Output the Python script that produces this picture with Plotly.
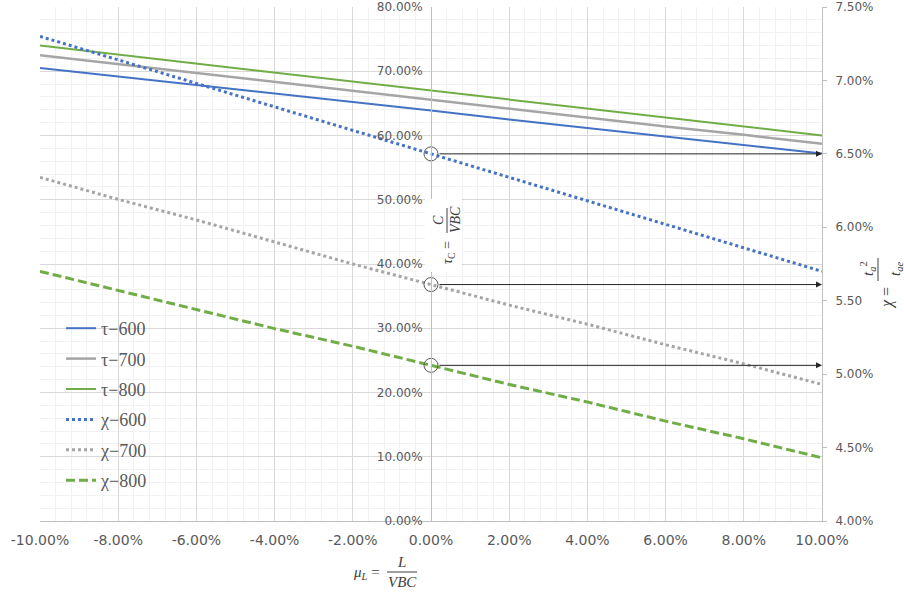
import plotly.graph_objects as go

# ---- data (percent units) ----
x_pct = [-10, -8, -6, -4, -2, 0, 2, 4, 6, 8, 10]
tau600 = [70.5, 69.2, 67.8, 66.5, 65.2, 63.9, 62.5, 61.2, 59.8, 58.5, 57.2]
tau700 = [72.5, 71.1, 69.8, 68.4, 67.0, 65.6, 64.2, 62.8, 61.4, 60.1, 58.7]
tau800 = [74.0, 72.6, 71.2, 69.8, 68.4, 67.0, 65.6, 64.2, 62.8, 61.4, 60.0]
chi600 = [7.30, 7.14, 6.98, 6.82, 6.66, 6.50, 6.34, 6.18, 6.02, 5.86, 5.70]
chi700 = [6.34, 6.19, 6.05, 5.90, 5.75, 5.61, 5.47, 5.34, 5.20, 5.07, 4.93]
chi800 = [5.70, 5.57, 5.44, 5.31, 5.19, 5.06, 4.93, 4.81, 4.68, 4.56, 4.43]
names = ["τ−600", "τ−700", "τ−800", "χ−600", "χ−700", "χ−800"]

left_ticks = [0, 10, 20, 30, 40, 50, 60, 70, 80]
left_text = ["0.00%", "10.00%", "20.00%", "30.00%", "40.00%", "50.00%", "60.00%", "70.00%", "80.00%"]
right_ticks = [4.0, 4.5, 5.0, 5.5, 6.0, 6.5, 7.0, 7.5]
right_text = ["4.00%", "4.50%", "5.00%", "5.50", "6.00%", "6.50%", "7.00%", "7.50%"]
x_ticks = [-10, -8, -6, -4, -2, 0, 2, 4, 6, 8, 10]
x_text = ["-10.00%", "-8.00%", "-6.00%", "-4.00%", "-2.00%", "0.00%", "2.00%", "4.00%", "6.00%", "8.00%", "10.00%"]

BLUE, GRAY, GREEN = "#4472C4", "#A5A5A5", "#70AD47"
TXT = "#595959"
W, H = 904, 592
L, R, T, B = 40, 82, 7, 71


def px(x):
    return (x - L) / (W - L - R)


def py(y):
    return (H - B - y) / (H - B - T)


fig = go.Figure()
styles = [
    (tau600, "y", dict(color=BLUE, width=2)),
    (tau700, "y", dict(color=GRAY, width=2.5)),
    (tau800, "y", dict(color=GREEN, width=2)),
    (chi600, "y2", dict(color=BLUE, width=3, dash="3px,3px")),
    (chi700, "y2", dict(color=GRAY, width=3, dash="3px,3px")),
    (chi800, "y2", dict(color=GREEN, width=3, dash="9px,4px")),
]
for k, (vals, ax, ln) in enumerate(styles):
    fig.add_trace(go.Scatter(x=x_pct, y=vals, name=names[k], mode="lines", yaxis=ax, line=ln,
                             legendgroup=f"g{k}"))

i0 = x_pct.index(0)
chi_at0 = [chi600[i0], chi700[i0], chi800[i0]]
fig.add_trace(go.Scatter(x=[0, 0, 0], y=chi_at0, yaxis="y2", mode="markers", showlegend=False,
                         marker=dict(symbol="circle-open", size=14, color="#595959", line=dict(width=1))))

annotations = []
for v in chi_at0:
    annotations.append(dict(x=x_pct[-1], y=v, xref="x", yref="y2", ax=0, ay=v, axref="x", ayref="y2",
                            showarrow=True, arrowhead=2, arrowsize=1.2, arrowwidth=1, arrowcolor="#262626",
                            startstandoff=7, text=""))

MATH = dict(family="Liberation Serif", color="#404040")


def lab(x, y, text, size, angle=0):
    return dict(x=px(x), y=py(y), xref="paper", yref="paper", showarrow=False, textangle=angle,
                xanchor="center", yanchor="middle", text=text, font=dict(size=size, **MATH))


# bottom axis title: mu_L = L / VBC
annotations += [
    lab(366, 573, "<i>μ</i><sub><i>L</i></sub> =", 15),
    lab(401, 562, "<i>L</i>", 15),
    lab(402, 582, "<i>VBC</i>", 15),
]
# centre axis title: tau_C = C / VBC (rotated)
annotations += [
    lab(449, 252, "<i>τ</i><sub>C</sub> =", 14, -90),
    lab(439, 220, "<i>C</i>", 14, -90),
    lab(456, 220, "<i>VBC</i>", 14, -90),
]
# right axis title: chi = t_a^2 / t_ae (rotated)
annotations += [
    lab(887, 298, "<i>χ</i> =", 16, -90),
    lab(868, 269, "<i>t</i><sub><i>a</i></sub><sup>2</sup>", 15, -90),
    lab(896, 269, "<i>t</i><sub><i>ae</i></sub>", 15, -90),
]

shapes = [
    dict(type="rect", xref="paper", yref="paper", x0=px(425), x1=px(462), y0=py(272), y1=py(199),
         fillcolor="white", line=dict(width=0), layer="above"),
    dict(type="line", xref="paper", yref="paper", x0=px(387), x1=px(417), y0=py(572), y1=py(572),
         line=dict(color="#404040", width=1), layer="above"),
    dict(type="line", xref="paper", yref="paper", x0=px(447), x1=px(447), y0=py(208), y1=py(233),
         line=dict(color="#404040", width=1), layer="above"),
    dict(type="line", xref="paper", yref="paper", x0=px(878), x1=px(878), y0=py(258), y1=py(281),
         line=dict(color="#404040", width=1), layer="above"),
]

fig.update_layout(
    width=W, height=H,
    margin=dict(l=L, r=R, t=T, b=B, pad=0, autoexpand=False),
    paper_bgcolor="white", plot_bgcolor="white",
    font=dict(family="DejaVu Sans", color=TXT),
    showlegend=True,
    legend=dict(x=px(61), y=py(310), xanchor="left", yanchor="top", bgcolor="rgba(0,0,0,0)",
                font=dict(family="Liberation Serif", size=18, color=TXT), tracegroupgap=4,
                itemwidth=30),
    xaxis=dict(range=[-10, 10], tickvals=x_ticks, ticktext=x_text, tickfont=dict(size=14, color=TXT),
               showgrid=True, gridcolor="#D9D9D9", gridwidth=1, zeroline=False, automargin=False,
               showline=True, linecolor="#BFBFBF", linewidth=1, ticks="", ticklabelstandoff=6,
               minor=dict(dtick=0.4, showgrid=True, gridcolor="#F2F2F2", gridwidth=1)),
    yaxis=dict(range=[0, 80], tickvals=left_ticks, ticktext=left_text, tickfont=dict(size=12, color=TXT),
               anchor="free", position=0.5, showgrid=True, gridcolor="#D9D9D9", gridwidth=1,
               zeroline=False, showline=True, linecolor="#BFBFBF", linewidth=1, ticks="",
               ticklabelstandoff=6, automargin=False,
               minor=dict(dtick=2, showgrid=True, gridcolor="#F2F2F2", gridwidth=1)),
    yaxis2=dict(range=[4, 7.5], tickvals=right_ticks, ticktext=right_text, tickfont=dict(size=12, color=TXT),
                overlaying="y", side="right", anchor="x", showgrid=False, zeroline=False,
                showline=True, linecolor="#BFBFBF", linewidth=1, ticks="outside", ticklen=4,
                tickcolor="#BFBFBF", ticklabelstandoff=6, automargin=False),
    annotations=annotations,
    shapes=shapes,
)

fig.write_html("out.html")
